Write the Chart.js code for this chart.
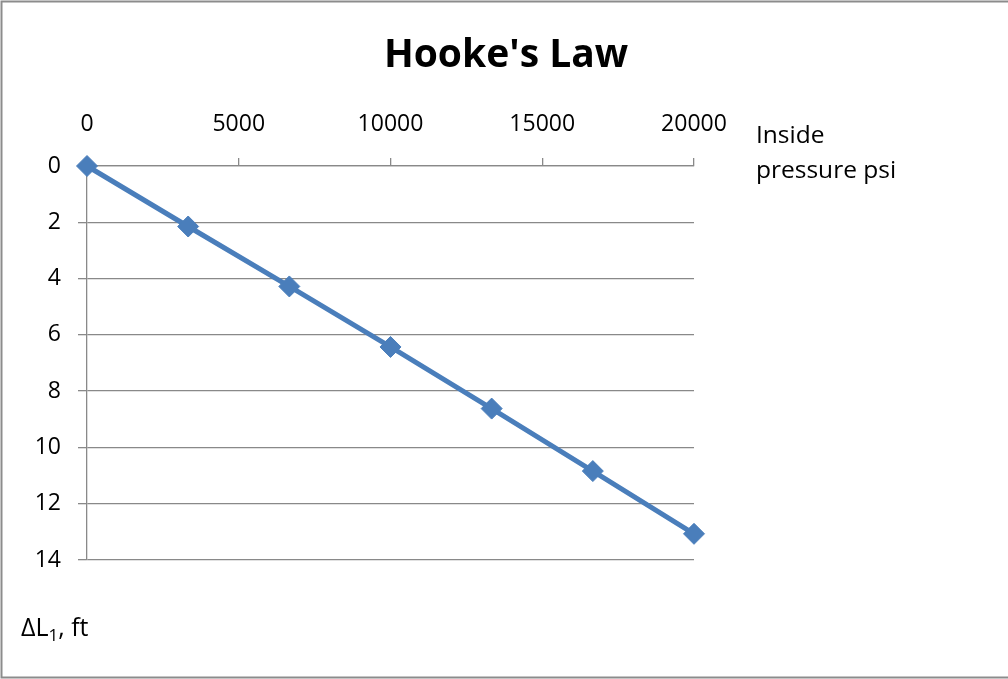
<!DOCTYPE html>
<html>
<head>
<meta charset="utf-8">
<title>Hooke's Law</title>
<script src="https://cdn.jsdelivr.net/npm/chart.js@4.4.1/dist/chart.umd.min.js"></script>
<style>
  html, body { margin: 0; padding: 0; background: #ffffff; }
  #wrap { width: 1008px; height: 679px; position: relative; }
</style>
</head>
<body>
<div id="wrap"><canvas id="chart" width="1008" height="679"></canvas></div>
<script>
// Inside pressure (psi) and resulting elongation ΔL1 (ft)
const pressurePsi = [0, 3333, 6667, 10000, 13333, 16667, 20000];
const deltaL1Ft   = [0, 2.15, 4.28, 6.43, 8.62, 10.84, 13.07];

// Axis tick settings
const xTickValues = [0, 5000, 10000, 15000, 20000];
const yTickValues = [0, 2, 4, 6, 8, 10, 12, 14];

const chartTitle = "Hooke's Law";
const xTitleLines = ["Inside", "pressure psi"];
const yTitleMain = "ΔL";
const yTitleSub = "1";
const yTitleTail = ", ft";

const FONT = '"Open Sans", "Liberation Sans", sans-serif';
const GRID = '#898989';
const BLUE = '#4A7EBB';

// Title, axis captions and the outer frame
const decorations = {
  id: 'decorations',
  afterDraw(chart) {
    const ctx = chart.ctx;
    const area = chart.chartArea;
    ctx.save();
    // frame
    ctx.strokeStyle = '#8c8c8c';
    ctx.lineWidth = 2;
    ctx.beginPath();
    ctx.moveTo(1010, 1.5);
    ctx.lineTo(1.5, 1.5);
    ctx.lineTo(1.5, 677.5);
    ctx.lineTo(1010, 677.5);
    ctx.stroke();

    ctx.fillStyle = '#000000';
    ctx.textBaseline = 'alphabetic';
    // chart title
    ctx.font = 'bold 39px ' + FONT;
    ctx.textAlign = 'center';
    ctx.fillText(chartTitle, 506, 67);

    // x-axis caption to the right of the top axis
    ctx.font = '24.5px ' + FONT;
    ctx.textAlign = 'left';
    ctx.fillText(xTitleLines[0], area.right + 62, 143);
    ctx.fillText(xTitleLines[1], area.right + 62, 178);

    // y-axis caption below the plot
    let x = 21;
    const base = 636;
    ctx.font = '25px ' + FONT;
    ctx.fillText(yTitleMain, x, base);
    x += ctx.measureText(yTitleMain).width;
    ctx.font = '17px ' + FONT;
    ctx.fillText(yTitleSub, x, base + 5);
    x += ctx.measureText(yTitleSub).width;
    ctx.font = '25px ' + FONT;
    ctx.fillText(yTitleTail, x, base);
    ctx.restore();
  }
};

new Chart(document.getElementById('chart'), {
  type: 'scatter',
  data: {
    datasets: [{
      label: 'ΔL1',
      data: pressurePsi.map((p, i) => ({ x: p, y: deltaL1Ft[i] })),
      showLine: true,
      borderColor: BLUE,
      borderWidth: 5,
      backgroundColor: BLUE,
      pointStyle: 'rectRot',
      pointRadius: 10.5,
      pointBorderWidth: 1,
      pointBorderColor: BLUE,
      pointBackgroundColor: BLUE,
      clip: false,
      tension: 0
    }]
  },
  options: {
    responsive: false,
    animation: false,
    devicePixelRatio: 1,
    layout: { padding: { left: 0, top: 0, right: 314, bottom: 119 } },
    plugins: {
      legend: { display: false },
      title: { display: false },
      tooltip: { enabled: false }
    },
    scales: {
      x: {
        type: 'linear',
        position: 'top',
        min: 0,
        max: 20000,
        afterFit(scale) { scale.height = 166; },
        afterBuildTicks(scale) { scale.ticks = xTickValues.map(v => ({ value: v })); },
        grid: {
          drawOnChartArea: false,
          drawTicks: true,
          tickLength: 8,
          color: GRID,
          lineWidth: 1.3
        },
        border: { display: true, color: GRID, width: 1.3 },
        ticks: {
          padding: 20,
          color: '#000000',
          font: { family: FONT, size: 23 },
          maxRotation: 0,
          callback: v => String(v)
        }
      },
      y: {
        type: 'linear',
        position: 'left',
        reverse: true,
        min: 0,
        max: 14,
        afterFit(scale) { scale.width = 87; },
        afterBuildTicks(scale) { scale.ticks = yTickValues.map(v => ({ value: v })); },
        grid: {
          drawOnChartArea: true,
          drawTicks: true,
          tickLength: 9,
          color: GRID,
          lineWidth: 1.3
        },
        border: { display: true, color: GRID, width: 1.3 },
        ticks: {
          padding: 17,
          color: '#000000',
          font: { family: FONT, size: 23 },
          callback: v => String(v)
        }
      }
    }
  },
  plugins: [decorations]
});
</script>
</body>
</html>
